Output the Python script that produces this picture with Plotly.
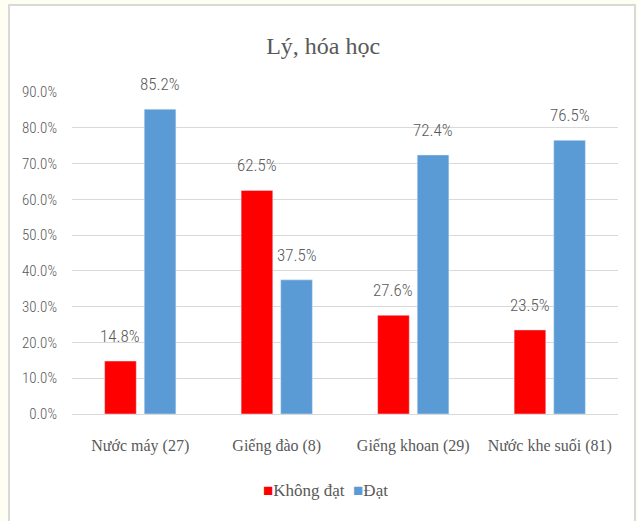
import plotly.graph_objects as go

categories = ["Nước máy (27)", "Giếng đào (8)", "Giếng khoan (29)", "Nước khe suối (81)"]
khong_dat = [0.148, 0.625, 0.276, 0.235]
dat = [0.852, 0.375, 0.724, 0.765]
series_names = ["Không đạt", "Đạt"]
title_text = "Lý, hóa học"

RED = "#FF0000"
BLUE = "#5B9BD5"
GRAY = "#595959"
SANS = "Roboto Condensed, Roboto, sans-serif"
SERIF = "Liberation Serif, serif"
colors = [RED, BLUE]

fig = go.Figure()
fig.add_trace(go.Bar(x=categories, y=khong_dat, name=series_names[0], marker_color=RED))
fig.add_trace(go.Bar(x=categories, y=dat, name=series_names[1], marker_color=BLUE))

annotations = []
for vals, shift in ((khong_dat, -19.8), (dat, 19.8)):
    for c, v in zip(categories, vals):
        annotations.append(dict(x=c, y=v, xref="x", yref="y", text=f"{v*100:.1f}%",
                                showarrow=False, yanchor="bottom", yshift=13, xshift=shift,
                                font=dict(family=SANS, size=17, color=GRAY, weight=300)))

# compact legend built from the series names and colours
legend_text = "&nbsp;&nbsp;".join(
    f"<span style='color:{col}'>■</span>{name}" for name, col in zip(series_names, colors))
annotations.append(dict(x=(325 - 72) / 546, y=(414 - 490) / 322, xref="paper", yref="paper",
                        text=legend_text, showarrow=False, xanchor="center", yanchor="middle",
                        font=dict(family=SERIF, size=17, color=GRAY)))

fig.update_layout(
    width=638, height=521,
    margin=dict(l=72, r=20, t=92, b=107),
    paper_bgcolor="#FEFEF2",
    plot_bgcolor="rgba(0,0,0,0)",
    barmode="group", bargap=0.42, bargroupgap=0.2,
    title=dict(text=title_text, x=0.46, xref="paper", xanchor="center",
               y=1 - 46 / 521, yref="container", yanchor="middle",
               font=dict(family=SERIF, size=24, color=GRAY)),
    showlegend=False,
    annotations=annotations,
    shapes=[dict(type="rect", xref="paper", yref="paper",
                 x0=(9 - 72) / 546, x1=(635 - 72) / 546,
                 y0=(414 - 540) / 322, y1=(414 - 5) / 322,
                 line=dict(color="#D9D9D9", width=2), fillcolor="white", layer="below")],
)
fig.update_yaxes(range=[0, 0.9], dtick=0.1, tickformat=".1%", gridcolor="#D9D9D9",
                 gridwidth=1, zeroline=True, zerolinecolor="#D9D9D9", zerolinewidth=1,
                 showline=False, ticks="", ticklabelstandoff=14,
                 tickfont=dict(family=SANS, size=15, color=GRAY, weight=300))
fig.update_xaxes(showline=False, ticks="", ticklabelstandoff=20,
                 tickfont=dict(family=SERIF, size=16, color=GRAY))

fig.write_html("out.html")
